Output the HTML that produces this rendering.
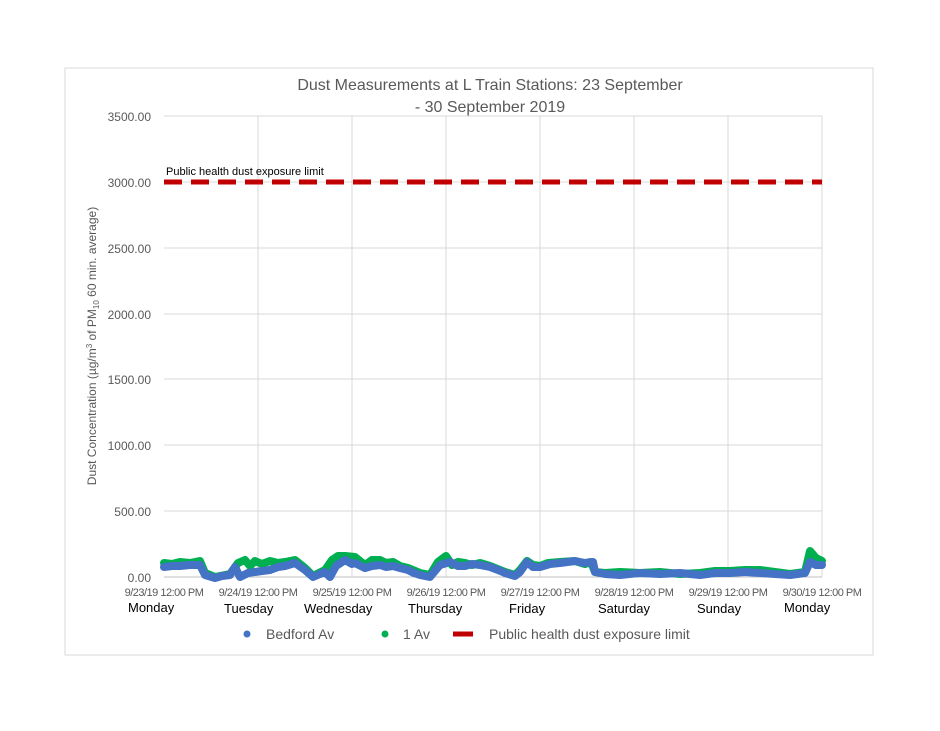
<!DOCTYPE html>
<html><head><meta charset="utf-8"><style>
body{margin:0;background:#fff;width:940px;height:726px;overflow:hidden}
svg text{font-family:"Liberation Sans",sans-serif}
</style></head><body>
<svg width="940" height="726" xmlns="http://www.w3.org/2000/svg">
<rect x="65" y="68" width="808" height="587" fill="#fff" stroke="#d9d9d9"/>
<text x="490" y="90" font-size="16" fill="#595959" text-anchor="middle">Dust Measurements at L Train Stations: 23 September</text>
<text x="490" y="112" font-size="16" fill="#595959" text-anchor="middle">- 30 September 2019</text>
<g stroke="#d9d9d9" stroke-width="1">
<line x1="164" y1="116" x2="822" y2="116"/><line x1="164" y1="182" x2="822" y2="182"/>
<line x1="164" y1="248" x2="822" y2="248"/><line x1="164" y1="314" x2="822" y2="314"/>
<line x1="164" y1="379" x2="822" y2="379"/><line x1="164" y1="445" x2="822" y2="445"/>
<line x1="164" y1="511" x2="822" y2="511"/>
<line x1="258" y1="116" x2="258" y2="577"/><line x1="352" y1="116" x2="352" y2="577"/>
<line x1="446" y1="116" x2="446" y2="577"/><line x1="540" y1="116" x2="540" y2="577"/>
<line x1="634" y1="116" x2="634" y2="577"/><line x1="728" y1="116" x2="728" y2="577"/>
<line x1="822" y1="116" x2="822" y2="577"/>
<line x1="164" y1="577" x2="822" y2="577" stroke="#bfbfbf"/>
</g>
<g font-size="12" fill="#595959" text-anchor="end">
<text x="151" y="121">3500.00</text><text x="151" y="187">3000.00</text>
<text x="151" y="253">2500.00</text><text x="151" y="319">2000.00</text>
<text x="151" y="384">1500.00</text><text x="151" y="450">1000.00</text>
<text x="151" y="516">500.00</text><text x="151" y="582">0.00</text>
</g>
<text transform="translate(96,346) rotate(-90)" font-size="12" fill="#595959" text-anchor="middle">Dust Concentration (µg/m<tspan dy="-4" font-size="8">3</tspan><tspan dy="4"> of PM</tspan><tspan dy="3" font-size="8">10</tspan><tspan dy="-3"> 60 min. average)</tspan></text>
<g font-size="11" fill="#595959" text-anchor="middle" letter-spacing="-0.5">
<text x="164" y="596">9/23/19 12:00 PM</text><text x="258" y="596">9/24/19 12:00 PM</text>
<text x="352" y="596">9/25/19 12:00 PM</text><text x="446" y="596">9/26/19 12:00 PM</text>
<text x="540" y="596">9/27/19 12:00 PM</text><text x="634" y="596">9/28/19 12:00 PM</text>
<text x="728" y="596">9/29/19 12:00 PM</text><text x="822" y="596">9/30/19 12:00 PM</text>
</g>
<g font-size="13" fill="#000">
<text x="128" y="612">Monday</text><text x="224" y="613">Tuesday</text><text x="304" y="613">Wednesday</text>
<text x="408" y="613">Thursday</text><text x="509" y="613">Friday</text><text x="598" y="613">Saturday</text>
<text x="697" y="613">Sunday</text><text x="784" y="612">Monday</text>
</g>
<line x1="164" y1="182" x2="822" y2="182" stroke="#c00000" stroke-width="5" stroke-dasharray="18,9"/>
<text x="166" y="175" font-size="11" fill="#000">Public health dust exposure limit</text>
<polyline fill="none" stroke="#00b050" stroke-width="8" stroke-linejoin="round" stroke-linecap="round" points="164,563 172,564 180,562 190,563 200,561 205,573 215,577 230,574 238,563 245,560 250,566 255,561 262,564 270,561 278,563 285,562 295,560 305,568 313,576 325,570 332,560 338,556 345,556 355,557 365,565 372,560 380,560 386,563 393,562 400,566 408,568 420,573 430,575 438,562 446,556 452,565 458,562 465,563 472,565 480,563 490,566 505,572 515,575 520,570 527,561 533,565 540,566 548,563 560,562 575,561 585,564 590,562 593,567 595,572 605,573 620,572 640,573 660,572 680,574 700,573 715,571 730,571 745,570 760,570 775,572 790,574 805,572 810,551 816,558 822,561"/>
<polyline fill="none" stroke="#4472c4" stroke-width="8" stroke-linejoin="round" stroke-linecap="round" points="164,567 172,566 180,566 190,565 200,565 205,575 215,578 222,576 230,575 235,567 240,577 248,573 255,572 262,571 270,570 278,567 285,566 295,563 305,570 313,577 320,574 325,572 330,577 336,566 345,560 352,564 355,563 365,568 372,566 380,565 386,567 393,566 400,568 408,570 414,573 420,575 430,577 440,565 450,562 458,566 465,566 472,564 480,565 490,567 498,570 505,573 515,576 520,572 527,562 533,567 540,567 550,564 560,563 575,561 585,563 593,562 595,572 605,574 620,575 640,573 660,574 680,573 700,575 715,573 730,573 745,572 760,573 775,574 790,575 805,573 810,562 816,565 822,565"/>
<g font-size="14" fill="#595959">
<circle cx="247" cy="634" r="3.5" fill="#4472c4"/><text x="266" y="639">Bedford Av</text>
<circle cx="385" cy="634" r="3.5" fill="#00b050"/><text x="403" y="639">1 Av</text>
<line x1="453" y1="634" x2="473" y2="634" stroke="#c00000" stroke-width="5"/><text x="489" y="639">Public health dust exposure limit</text>
</g>
</svg>
</body></html>
